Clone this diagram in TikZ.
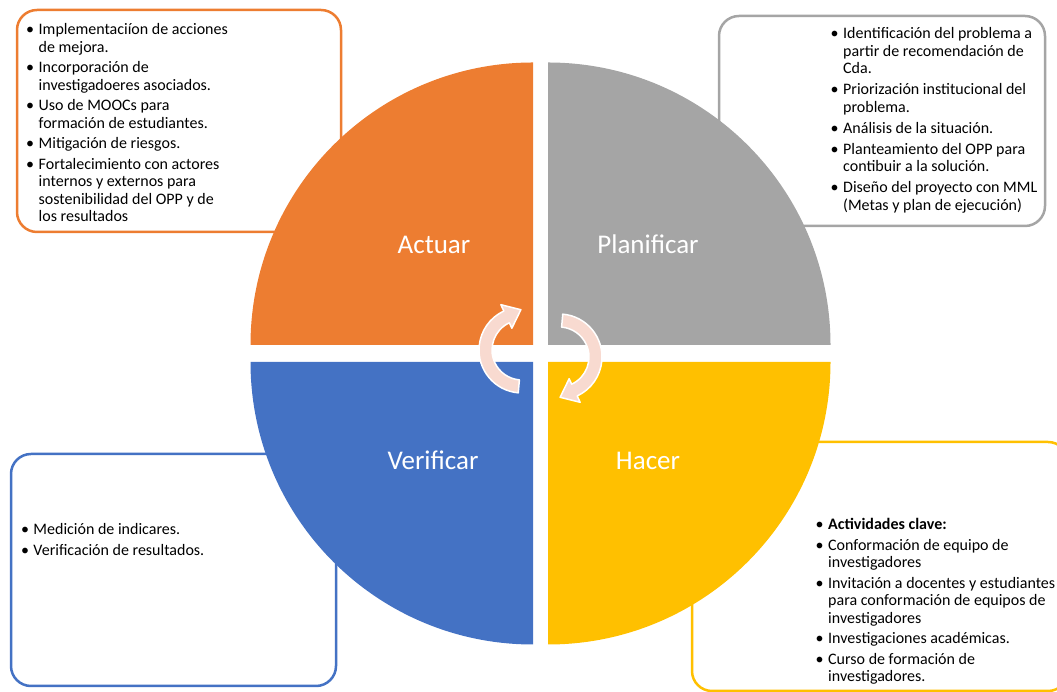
\documentclass[tikz,border=0pt]{standalone}
\usepackage{fontspec}
\setmainfont{Carlito}
\definecolor{cOr}{HTML}{ED7D31}
\definecolor{cGr}{HTML}{A5A5A5}
\definecolor{cBl}{HTML}{4472C4}
\definecolor{cYe}{HTML}{FFC000}
\definecolor{cAr}{RGB}{248,218,208}
\newcommand\bu{\makebox[12.5pt][l]{\textbullet}}
\begin{document}
\begin{tikzpicture}[x=1pt,y=1pt,
  infobox/.style={draw, line width=2.5pt, rounded corners=20pt, fill=white},
  phase/.style={text=white, font=\fontsize{27}{30}\selectfont, inner sep=0, anchor=base},
  list/.style={anchor=base west, inner sep=0, font=\fontsize{16}{17.5}\selectfont},
  cyc/.style={fill=cAr, draw=white, line width=1.5pt, line join=round}]
\useasboundingbox (0,0) rectangle (1057,692);

% info boxes (behind the circle)
\draw[infobox, draw=cOr] (17,682) rectangle (341,460);
\draw[infobox, draw=cGr] (719,676) rectangle (1045,466);
\draw[infobox, draw=cBl] (11,238) rectangle (336,6);
\draw[infobox, draw=cYe] (692,250) rectangle (1068,1);

% quadrants
\fill[cOr] (533,347) -- ++(-282.5,0) arc[start angle=180, end angle=90, radius=282.5] -- cycle;
\fill[cGr] (548,347) -- ++(0,282.5) arc[start angle=90, end angle=0, radius=282.5] -- cycle;
\fill[cYe] (548,330) -- ++(282.5,0) arc[start angle=0, end angle=-90, radius=282.5] -- cycle;
\fill[cBl] (533,330) -- ++(0,-282.5) arc[start angle=270, end angle=180, radius=282.5] -- cycle;

% phase labels
\node[phase] (act) at (434,438) {Actuar};
\node[phase] (pla) at (648,438) {Planificar};
\node[phase] (ver) at (433,222) {Verificar};
\node[phase] (hac) at (648,222) {Hacer};

% cycle arrows
\begin{scope}[shift={(522,342)}]
\draw[cyc] (265:43) arc[start angle=265, end angle=115, radius=43]
  -- (115:50) -- (91.6:40.3) -- (115:24) -- (115:30)
  arc[start angle=115, end angle=265, radius=30] -- cycle;
\end{scope}
\begin{scope}[shift={(559,335)}]
\draw[cyc] (85:43) arc[start angle=85, end angle=-65, radius=43]
  -- (-65:50) -- (-88.4:40.3) -- (-65:24) -- (-65:30)
  arc[start angle=-65, end angle=85, radius=30] -- cycle;
\end{scope}

% texts
\node[list] (tAct) at (26,657) {\begin{tabular}[t]{@{}l@{}l@{}}
\bu & Implementaciíon de acciones\\
 & de mejora.\\[3pt]
\bu & Incorporación de\\
 & investigadoeres asociados.\\[3pt]
\bu & Uso de MOOCs para\\
 & formación de estudiantes.\\[3pt]
\bu & Mitigación de riesgos.\\[3pt]
\bu & Fortalecimiento con actores\\
 & internos y externos para\\
 & sostenibilidad del OPP y de\\
 & los resultados
\end{tabular}};

\node[list] (tPla) at (830.5,653) {\begin{tabular}[t]{@{}l@{}l@{}}
\bu & Identificación del problema a\\
 & partir de recomendación de\\
 & Cda.\\[3.5pt]
\bu & Priorización institucional del\\
 & problema.\\[3.5pt]
\bu & Análisis de la situación.\\[3.5pt]
\bu & Planteamiento del OPP para\\
 & contibuir a la solución.\\[3.5pt]
\bu & Diseño del proyecto con MML\\
 & (Metas y plan de ejecución)
\end{tabular}};

\node[list] (tVer) at (20.8,157) {\begin{tabular}[t]{@{}l@{}l@{}}
\bu & Medición de indicares.\\[3pt]
\bu & Verificación de resultados.
\end{tabular}};

\node[list] (tHac) at (815.5,162) {\begin{tabular}[t]{@{}l@{}l@{}}
\bu & \textbf{Actividades clave:}\\[3pt]
\bu & Conformación de equipo de\\
 & investigadores\\[3pt]
\bu & Invitación a docentes y estudiantes\\
 & para conformación de equipos de\\
 & investigadores\\[3pt]
\bu & Investigaciones académicas.\\[3pt]
\bu & Curso de formación de\\
 & investigadores.
\end{tabular}};
\end{tikzpicture}
\end{document}
